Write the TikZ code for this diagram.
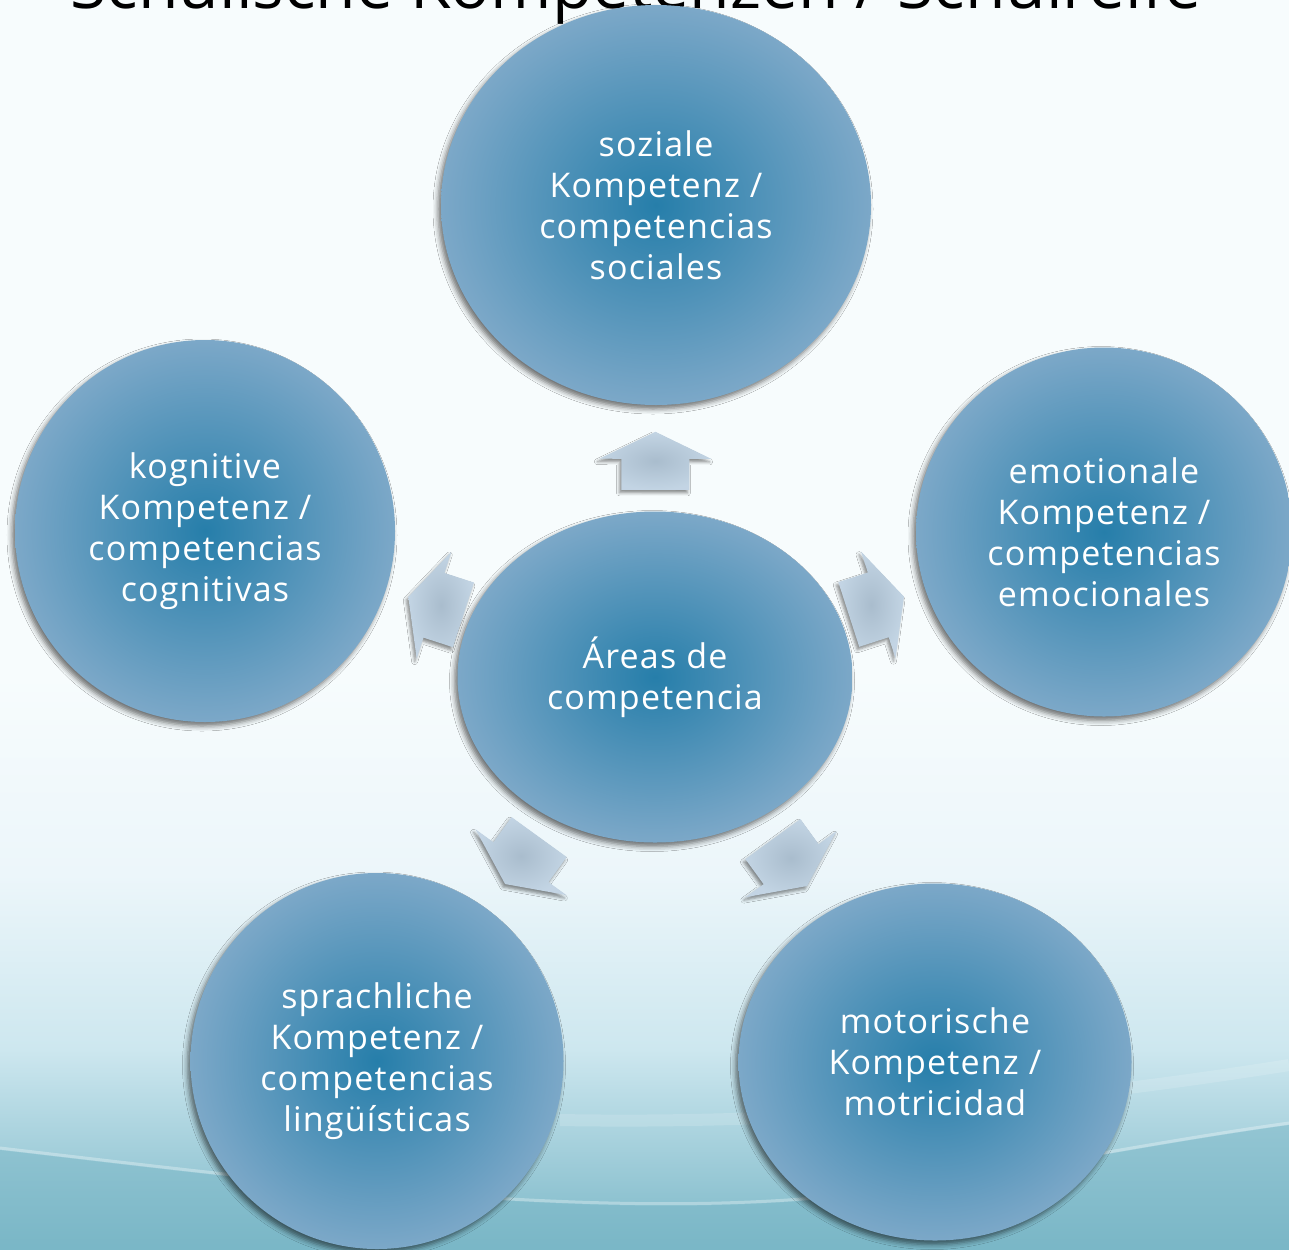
\documentclass[tikz,border=0pt]{standalone}
\usepackage{fontspec}
\setmainfont{Open Sans}[LetterSpace=3.5]
\newfontfamily\titlefont{Open Sans}
\usetikzlibrary{shapes.geometric,calc,shadows.blur}

\definecolor{discinner}{RGB}{38,126,170}
\definecolor{discouter}{RGB}{124,168,200}
\definecolor{spokefill}{RGB}{184,205,223}
\definecolor{bgtop}{RGB}{247,252,253}
\definecolor{bgmid}{RGB}{236,246,250}
\definecolor{bglow}{RGB}{205,231,239}
\definecolor{bgbot}{RGB}{122,183,199}

\pgfdeclareverticalshading{slidebg}{100bp}{color(0bp)=(bgbot); color(25bp)=(bgbot); color(33bp)=(bglow); color(40bp)=(bgmid); color(48bp)=(bgtop); color(100bp)=(bgtop)}

\tikzset{
  disc/.style={ellipse, inner sep=0pt, inner color=discinner, outer color=discouter,
    text=white, align=center, font=\fontsize{17}{20.5}\selectfont,
    blur shadow={shadow xshift=-1.5pt, shadow yshift=-2pt, shadow blur radius=2.5pt, shadow opacity=55}},
  spoke/.style={inner color=spokefill!92!black, outer color=spokefill!85!white,
    blur shadow={shadow xshift=-1pt, shadow yshift=-1.5pt, shadow blur radius=1.5pt, shadow opacity=45}},
}

\begin{document}
\begin{tikzpicture}[x=0.5pt,y=0.5pt,yscale=-1,xscale=1]
        \useasboundingbox (0,0) rectangle (1289,1249);
        \clip (0,0) rectangle (1289,1249);
        %Background
        \shade [shading=slidebg] (0,0) rectangle (1289,1249);
        \fill [bgbot, opacity=0.5] (0,1150) .. controls (300,1185) and (640,1230) .. (900,1190) .. controls (1050,1165) and (1180,1140) .. (1289,1125) -- (1289,1249) -- (0,1249) -- cycle;
        \draw [white, opacity=0.3, line width=1.5pt] (0,1148) .. controls (300,1183) and (640,1228) .. (900,1188) .. controls (1050,1163) and (1180,1138) .. (1289,1123);
        \draw [white, opacity=0.15, line width=6pt] (560,1120) .. controls (850,1125) and (1100,1095) .. (1289,1065);
        % Title
        \node [anchor=base, font=\titlefont\fontsize{33}{38}\selectfont] (title) at (636,8) {Schulische Kompetenzen / Schulreife};
        % Circles
        \node [disc, minimum width=197.5pt, minimum height=165.5pt] (hub) at (655,677) {Áreas de\\competencia};
        \node [disc, minimum width=215pt, minimum height=200pt] (social) at (656,205) {soziale\\Kompetenz /\\competencias\\sociales};
        \node [disc, minimum width=188pt, minimum height=184.5pt] (emotional) at (1104,532) {emotionale\\Kompetenz /\\competencias\\emocionales};
        \node [disc, minimum width=196.5pt, minimum height=178.5pt] (motor) at (935,1062) {motorische\\Kompetenz /\\motricidad};
        \node [disc, minimum width=186.5pt, minimum height=188pt] (linguistic) at (377,1061) {sprachliche\\Kompetenz /\\competencias\\lingüísticas};
        \node [disc, minimum width=190pt, minimum height=191pt] (cognitive) at (205,531) {kognitive\\Kompetenz /\\competencias\\cognitivas};
        % Block arrows
        \foreach \target/\frac in {social/0.458, emotional/0.493, motor/0.482, linguistic/0.478, cognitive/0.487} {
          \coordinate (ac) at ($(hub.center)!\frac!(\target.center)$);
          \coordinate (ab) at ($(ac)!-14.5pt!(\target.center)$);
          \coordinate (aw) at ($(ac)!1pt!(\target.center)$);
          \coordinate (at) at ($(ac)!14.5pt!(\target.center)$);
          \shade [spoke] ($(ab)!17pt!90:(\target.center)$) -- ($(aw)!17pt!90:(\target.center)$) -- ($(aw)!28pt!90:(\target.center)$) -- (at) -- ($(aw)!28pt!-90:(\target.center)$) -- ($(aw)!17pt!-90:(\target.center)$) -- ($(ab)!17pt!-90:(\target.center)$) -- cycle;
        }
\end{tikzpicture}
\end{document}
